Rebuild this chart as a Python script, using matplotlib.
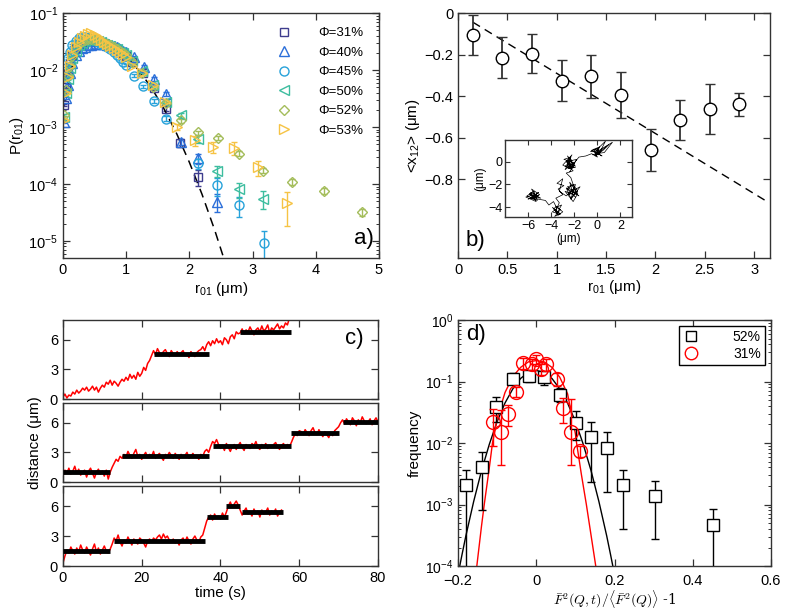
import numpy as np
import matplotlib
matplotlib.use("Agg")
import matplotlib.pyplot as plt
from matplotlib.lines import Line2D

plt.rcParams['font.family'] = ['Liberation Sans', 'DejaVu Sans']
plt.rcParams['mathtext.fontset'] = 'custom'
plt.rcParams['mathtext.rm'] = 'Liberation Sans'
plt.rcParams['mathtext.it'] = 'Liberation Sans:italic'
plt.rcParams['mathtext.bf'] = 'Liberation Sans:bold'
plt.rcParams['font.size'] = 10.5
plt.rcParams['axes.linewidth'] = 1.0
plt.rcParams['axes.edgecolor'] = '#333333'

# ---------------- panel a: P(r01) ----------------
R_DENSE = [0.02, 0.05, 0.08, 0.11, 0.15, 0.2, 0.25, 0.3, 0.35, 0.4, 0.45,
           0.5, 0.55, 0.6, 0.65, 0.7, 0.75, 0.8, 0.85, 0.9, 0.95, 1.0]

r31 = R_DENSE + [1.1, 1.26, 1.44, 1.63, 1.85, 2.13]
p31 = [2.4e-3, 5e-3, 8.5e-3, 1.25e-2, 1.8e-2, 2.4e-2, 2.8e-2, 3.1e-2, 3.3e-2, 3.4e-2, 3.4e-2,
       3.35e-2, 3.25e-2, 3.1e-2, 2.95e-2, 2.8e-2, 2.65e-2, 2.5e-2, 2.3e-2, 2.1e-2, 1.9e-2, 1.75e-2,
       1.4e-2, 9e-3, 4.8e-3, 2.1e-3, 5.3e-4, 1.35e-4]
e31 = [0.04] * 22 + [0.05, 0.06, 0.08, 0.1, 0.15, 0.32]

r40 = R_DENSE + [1.12, 1.28, 1.44, 1.63, 1.86, 2.13, 2.44]
p40 = [1.2e-3, 3.2e-3, 5.5e-3, 9e-3, 1.35e-2, 1.8e-2, 2.15e-2, 2.4e-2, 2.55e-2, 2.7e-2, 2.8e-2,
       2.85e-2, 2.9e-2, 2.9e-2, 2.85e-2, 2.8e-2, 2.7e-2, 2.6e-2, 2.5e-2, 2.35e-2, 2.2e-2, 2.05e-2,
       1.7e-2, 1.15e-2, 7e-3, 3.8e-3, 5.5e-4, 2.8e-4, 4.9e-5]
e40 = [0.04] * 22 + [0.05, 0.06, 0.07, 0.08, 0.12, 0.2, 0.35]

r45 = R_DENSE + [1.12, 1.26, 1.44, 1.63, 2.13, 2.44, 2.78, 3.18]
p45 = [7.5e-3, 1.1e-2, 1.6e-2, 2.1e-2, 2.7e-2, 3.2e-2, 3.6e-2, 3.8e-2, 3.8e-2, 3.7e-2, 3.5e-2,
       3.3e-2, 3.1e-2, 2.9e-2, 2.7e-2, 2.5e-2, 2.3e-2, 2.1e-2, 1.8e-2, 1.6e-2, 1.4e-2, 1.23e-2,
       8e-3, 5.2e-3, 2.9e-3, 1.4e-3, 2.3e-4, 9.5e-5, 4.2e-5, 9e-6]
e45 = [0.04] * 22 + [0.06, 0.07, 0.08, 0.1, 0.2, 0.35, 0.38, 0.65]

r50 = R_DENSE + [1.1, 1.25, 1.42, 1.63, 1.86, 2.13, 2.44, 2.78, 3.16]
p50 = [1.5e-3, 4e-3, 7e-3, 1.1e-2, 1.6e-2, 2.2e-2, 2.7e-2, 3.0e-2, 3.2e-2, 3.3e-2, 3.35e-2,
       3.3e-2, 3.2e-2, 3.05e-2, 2.9e-2, 2.75e-2, 2.6e-2, 2.45e-2, 2.3e-2, 2.1e-2, 1.95e-2, 1.8e-2,
       1.45e-2, 9.5e-3, 5.5e-3, 2.8e-3, 1.6e-3, 6.2e-4, 1.7e-4, 8e-5, 5.5e-5]
e50 = [0.04] * 22 + [0.05, 0.06, 0.07, 0.08, 0.1, 0.15, 0.22, 0.3, 0.35]

r52 = R_DENSE + [1.1, 1.25, 1.42, 1.63, 1.86, 2.14, 2.45, 2.78, 3.17, 3.63, 4.13, 4.73]
p52 = [1.6e-3, 4.5e-3, 8e-3, 1.2e-2, 1.75e-2, 2.4e-2, 2.9e-2, 3.2e-2, 3.4e-2, 3.5e-2, 3.5e-2,
       3.4e-2, 3.3e-2, 3.15e-2, 3.0e-2, 2.85e-2, 2.7e-2, 2.5e-2, 2.35e-2, 2.2e-2, 2.0e-2, 1.85e-2,
       1.4e-2, 9e-3, 5e-3, 2.6e-3, 1.3e-3, 8e-4, 6.4e-4, 3.4e-4, 1.7e-4, 1.1e-4, 7.6e-5, 3.2e-5]
e52 = [0.04] * 22 + [0.05, 0.05, 0.06, 0.07, 0.08, 0.08, 0.08, 0.1, 0.1, 0.12, 0.12, 0.15]

r53 = R_DENSE + [1.09, 1.25, 1.42, 1.61, 1.81, 2.09, 2.38, 2.71, 3.09, 3.54]
p53 = [1.3e-3, 4e-3, 7.5e-3, 1.2e-2, 1.8e-2, 2.5e-2, 3.1e-2, 3.6e-2, 4.0e-2, 4.3e-2, 4.5e-2,
       4.2e-2, 3.8e-2, 3.4e-2, 3.1e-2, 2.85e-2, 2.65e-2, 2.45e-2, 2.25e-2, 2.05e-2, 1.9e-2, 1.7e-2,
       1.2e-2, 8.7e-3, 5.5e-3, 2.8e-3, 1.0e-3, 5.9e-4, 4.5e-4, 4.3e-4, 1.95e-4, 4.6e-5]
e53 = [0.04] * 22 + [0.05, 0.06, 0.07, 0.08, 0.12, 0.2, 0.22, 0.25, 0.3, 0.6]

a_labels = ["Φ=31%", "Φ=40%", "Φ=45%", "Φ=50%", "Φ=52%", "Φ=53%"]

# dashed guide in panel a
fit_a_r = [0.1, 0.2, 0.3, 0.4, 0.5, 0.6, 0.8, 1.0, 1.2, 1.4, 1.6, 1.8, 2.0, 2.2, 2.4, 2.6]
fit_a_p = [8.8e-3, 1.67e-2, 2.31e-2, 2.74e-2, 2.95e-2, 2.96e-2, 2.48e-2, 1.71e-2, 9.9e-3,
           4.9e-3, 2.07e-3, 7.6e-4, 2.4e-4, 6.6e-5, 1.56e-5, 3.2e-6]

# ---------------- panel b: <x12> vs r01 ----------------
b_r = [0.15, 0.45, 0.75, 1.05, 1.35, 1.65, 1.95, 2.25, 2.55, 2.85]
b_x12 = [-0.105, -0.215, -0.195, -0.325, -0.305, -0.395, -0.66, -0.515, -0.462, -0.44]
b_err = [0.095, 0.1, 0.095, 0.1, 0.105, 0.11, 0.1, 0.098, 0.12, 0.054]
b_line_r = [0.15, 3.12]
b_line_x = [-0.044, -0.905]

# inset trajectory (um)
walk_x = [-5.3, -5.9, -5.4, -6.1, -5.5, -5.2, -5.8, -5.0, -5.7, -5.4, -6.0, -5.1, -5.6, -4.9,
          -5.5, -6.2, -5.3, -5.8, -5.1, -5.6,
          -4.5, -4.2, -3.8, -3.5, -3.9, -3.3, -3.7, -3.2, -3.6, -3.0, -3.4, -3.8, -3.1,
          -3.5, -3.9, -3.2, -3.6, -3.3,
          -3.6, -3.0, -3.4, -2.9, -3.5, -3.0, -3.3, -2.7,
          -2.0, -2.5, -1.8, -2.3, -1.9, -2.6, -1.6, -2.2, -2.4, -1.7, -2.1, -2.8, -2.0, -1.5,
          -2.4, -1.9, -2.6, -2.1, -1.7, -2.3, -2.7, -1.8,
          -2.3, -2.7, -2.1, -2.6, -2.0, -2.9, -2.3, -2.5, -1.9, -2.8, -2.2, -2.6, -2.0, -2.4,
          -1.8, -2.7, -2.3, -2.5, -2.1, -2.8, -2.4, -1.9, -2.6, -2.2, -3.0, -2.4,
          -1.6, -1.0, -0.5, 0.0, -0.3, 0.2, -0.6, 0.1, -0.2, 0.5, 1.0, 0.0, -0.4, 0.3, -0.1,
          0.7, 0.1, -0.3, 0.4, -0.5, 0.2, -0.1, 0.6, 1.3, 0.0]
walk_y = [-3.1, -2.8, -3.3, -3.0, -2.6, -3.4, -3.2, -2.9, -2.4, -3.0, -3.3, -2.7, -3.1, -3.2,
          -2.9, -3.1, -3.5, -2.7, -3.0, -3.2,
          -3.4, -3.8, -3.5, -4.1, -4.4, -4.6, -4.8, -4.2, -3.9, -4.4, -4.7, -4.1, -3.8,
          -4.5, -4.0, -4.6, -4.3, -3.6,
          -3.2, -2.9, -2.4, -2.1, -1.9, -1.5, -2.6, -3.0,
          -2.3, -2.9, -2.6, -3.3, -2.0, -2.2, -3.0, -2.5, -1.8, -2.8, -3.5, -2.6, -2.9, -2.2,
          -2.7, -3.1, -2.4, -2.0, -2.6, -3.2, -2.3, -2.9,
          -1.4, -1.0, -0.8, -0.3, -0.1, 0.2, 0.4, -0.6, -0.5, -0.4, 0.1, 0.5, -0.3, -0.9,
          0.2, 0.0, -0.5, 0.3, -0.2, -0.7, 0.1, -0.4, -0.1, 0.6, -0.3, -0.6,
          0.4, 0.5, 0.7, 0.4, 1.1, 0.8, 0.9, 1.2, 0.5, 1.0, 1.5, 0.7, 0.6, 0.9, 1.0,
          1.8, 0.6, 0.9, 0.5, 1.0, 1.3, 0.7, 0.8, 1.7, 0.9]

# ---------------- panel c: distance traces ----------------
DT = 0.5
trace_top = [0.2, 0.5, 0.1, 0.4, 0.3, 0.7, 0.5, 0.9, 0.6, 0.8, 1.1, 0.9, 1.2, 0.8, 1.0, 1.3, 0.9, 1.2, 0.7, 1.1, 1.4,
             1.2, 1.7, 1.5, 1.9, 1.4, 1.8, 1.6, 1.3, 1.7, 2.0, 1.8, 2.2, 1.9, 2.5, 2.1, 2.4, 2.0, 2.7, 2.3,
             2.6, 3.2, 2.9, 3.6, 3.9, 4.4,
             4.9, 4.5, 5.1, 4.7, 4.4, 4.8, 5.0, 4.6, 4.3, 4.9, 4.6, 4.4, 4.8, 4.5, 4.7, 4.9, 4.4, 4.6, 4.2, 4.8,
             4.5, 4.3, 4.7, 4.9, 5.0, 5.3, 4.9, 5.5,
             5.8, 5.4, 5.9, 5.6, 6.1, 5.7, 5.9, 5.5, 6.2, 6.0, 5.6, 6.3, 6.5, 6.1, 6.8, 6.6,
             6.7, 7.1, 6.6, 7.0, 6.8, 7.3, 6.9, 6.5, 7.0, 7.2, 6.8, 7.4, 6.9, 7.1, 7.5, 6.7, 7.2, 7.0, 7.3, 7.6,
             7.1, 7.4, 7.2, 7.7, 7.5, 8.2]
trace_mid = [0.6, 1.2, 0.9, 1.4, 0.8, 1.1, 1.6, 0.9, 1.3, 0.7, 1.0, 1.2, 0.5, 1.1, 1.4, 0.9, 0.4, 1.0, 1.3, 0.8,
             1.1, 0.6, 1.2, 0.3, 1.0,
             1.5, 1.9, 2.3, 2.1, 2.6, 2.4,
             2.8, 2.5, 3.1, 2.7, 2.4, 2.9, 3.3, 2.6, 2.8, 2.3, 2.7, 3.0, 2.5, 2.8, 2.6, 3.1, 2.4, 2.7, 2.9, 2.5,
             2.2, 2.8, 2.6, 3.0, 2.7, 2.4, 2.9, 2.6, 2.3, 2.8, 2.5, 2.7, 3.0, 2.4, 2.6, 2.9, 2.5, 2.7, 2.3, 2.8,
             2.6, 3.1, 3.3, 3.0,
             3.6, 4.1, 3.9, 4.3,
             3.8, 3.4, 3.7, 3.2, 3.9, 3.5, 3.1, 3.6, 3.8, 3.3, 3.7, 4.0, 3.5, 3.2, 3.8, 3.6, 3.4, 3.9, 3.7, 4.1,
             3.5, 3.3, 3.8, 3.6, 3.9, 3.4, 3.7, 3.5, 3.8, 4.0, 3.6, 3.3, 3.7, 3.9, 3.5, 3.8, 3.6, 4.0,
             4.5, 4.9, 4.7, 5.2,
             5.1, 4.8, 5.3, 5.0, 4.7, 5.2, 5.5, 5.0, 4.8, 5.3, 4.9, 4.6, 5.1, 4.8, 4.5, 5.0, 4.7, 5.2, 5.4, 5.6,
             6.0, 6.3, 5.9, 6.4, 6.1, 5.8, 6.5, 6.2, 5.7, 6.3, 6.0, 6.6, 6.2, 5.9, 6.1, 6.4, 5.8, 6.2, 6.5, 6.1]
trace_bot = [0.3, 1.0, 1.6, 1.3, 1.9, 1.5, 1.2, 1.8, 1.4, 2.1, 1.6, 1.3, 1.9, 1.5, 1.1, 1.7, 2.2, 1.4, 1.8, 1.2,
             1.6, 2.0, 1.5, 1.3, 1.7,
             2.2, 2.8, 2.5, 3.1, 2.4, 2.0, 2.6, 2.3, 2.9, 2.5, 2.1, 2.7, 2.4, 2.2, 2.8, 2.6, 2.3, 1.9, 2.5, 2.7,
             2.4, 2.8, 2.6, 2.9, 3.1, 2.7, 3.2, 2.8, 3.0, 2.6, 2.4, 2.7, 2.3, 2.5, 2.1, 2.6, 2.8, 2.4, 2.9, 2.5,
             2.2, 2.7, 3.0, 2.6, 2.4, 2.9, 3.1,
             3.8, 4.5, 4.9,
             5.1, 4.6, 5.2, 4.8, 5.0, 4.7, 5.3, 4.9, 5.4,
             6.0, 6.4, 5.9, 6.2, 6.5, 6.1,
             5.6, 5.1, 5.5, 5.8, 5.2, 5.4, 5.0, 5.7, 5.3, 5.5, 4.9, 5.6, 5.2, 5.4, 5.8, 5.1, 5.5, 5.3, 5.7, 5.0,
             5.4, 5.6]
# plateaus: (start, end, level)
steps_top = [(23, 37, 4.6), (45, 58, 6.8)]
steps_mid = [(0, 12, 1.0), (15, 37, 2.6), (38, 58, 3.6), (58, 70, 5.0), (71, 80, 6.1)]
steps_bot = [(0, 12, 1.5), (13, 36, 2.5), (36.5, 42, 4.9), (41.5, 45, 6.0), (45.5, 56, 5.4)]

# ---------------- panel d: frequency ----------------
d_sq_x = [-0.18, -0.14, -0.102, -0.059, -0.018, 0.02, 0.06, 0.101, 0.141, 0.181, 0.222, 0.303, 0.451]
d_sq_y = [2.1e-3, 4.1e-3, 3.9e-2, 1.1e-1, 1.25e-1, 1.19e-1, 6.1e-2, 2.1e-2, 1.25e-2, 8.3e-3, 2.1e-3, 1.35e-3, 4.6e-4]
d_sq_lo = [1e-5, 8e-4, 2.2e-2, 9.2e-2, 9.8e-2, 8.9e-2, 4.6e-2, 1.1e-2, 2.3e-3, 1.6e-3, 4e-4, 2.8e-4, 1e-5]
d_sq_hi = [3.6e-3, 7.2e-3, 5.7e-2, 1.4e-1, 1.5e-1, 1.45e-1, 7.8e-2, 3.3e-2, 2.2e-2, 1.5e-2, 3.6e-3, 2.4e-3, 8.3e-4]

d_ci_x = [-0.11, -0.089, -0.072, -0.051, -0.034, -0.012, 0.0, 0.013, 0.026, 0.052, 0.069, 0.09, 0.111]
d_ci_y = [2.2e-2, 1.5e-2, 2.95e-2, 6.7e-2, 2.0e-1, 1.9e-1, 2.3e-1, 1.6e-1, 1.9e-1, 1.1e-1, 3.7e-2, 1.5e-2, 7.3e-3]
d_ci_lo = [9e-3, 4.4e-3, 1.9e-2, 5.5e-2, 1.6e-1, 1.55e-1, 1.9e-1, 1.3e-1, 1.5e-1, 8.5e-2, 2.1e-2, 4.4e-3, 6e-3]
d_ci_hi = [3.6e-2, 3.5e-2, 4.2e-2, 8e-2, 2.4e-1, 2.3e-1, 2.7e-1, 1.9e-1, 2.3e-1, 1.35e-1, 5.3e-2, 5.2e-2, 9e-3]

fit52_x = [-0.2, -0.19, -0.18, -0.16, -0.14, -0.12, -0.1, -0.08, -0.06, -0.04, -0.02, 0.0,
           0.02, 0.04, 0.06, 0.08, 0.1, 0.12, 0.14, 0.16, 0.18, 0.19, 0.2]
fit52_lg = [-4.14, -3.82, -3.51, -2.95, -2.45, -2.02, -1.65, -1.35, -1.12, -0.95, -0.85, -0.82,
            -0.85, -0.95, -1.12, -1.35, -1.65, -2.02, -2.45, -2.95, -3.51, -3.82, -4.14]
fit31_x = [-0.152, -0.14, -0.133, -0.12, -0.112, -0.1, -0.08, -0.06, -0.04, -0.02, 0.0,
           0.02, 0.04, 0.06, 0.08, 0.1, 0.103, 0.115, 0.128, 0.14, 0.152]
fit31_lg = [-4.0, -3.35, -3.0, -2.4, -2.0, -1.6, -1.18, -0.92, -0.77, -0.68, -0.66,
            -0.68, -0.77, -0.93, -1.2, -1.85, -2.0, -2.5, -3.0, -3.5, -4.0]

a_colors = ['#3e3d8e', '#2b6fd9', '#27a2da', '#3dbd9f', '#a4bd5b', '#f6c344']
a_markers = ['s', '^', 'o', '<', 'D', '>']
a_msize = [5.5, 6.5, 6.5, 6.5, 5.0, 6.5]


def style_ax(ax):
    ax.tick_params(which='both', direction='in', top=True, right=True,
                   colors='#333333', labelcolor='black')
    ax.tick_params(which='major', length=5, width=0.9, labelsize=10.5)
    ax.tick_params(which='minor', length=2.5, width=0.7)


fig = plt.figure(figsize=(7.87, 6.10), dpi=100)

# panel a
ax_a = fig.add_axes([0.080, 0.577, 0.4015, 0.4016])
series = [(r31, p31, e31), (r40, p40, e40), (r45, p45, e45),
          (r50, p50, e50), (r52, p52, e52), (r53, p53, e53)]
for (r, p, e), col, mk, ms in zip(series, a_colors, a_markers, a_msize):
    p = np.array(p)
    ax_a.errorbar(r, p, yerr=p * np.array(e), fmt=mk, ms=ms, mfc='none', mec=col,
                  mew=1.0, ecolor=col, elinewidth=1.0, capsize=2.5)
ax_a.plot(fit_a_r, fit_a_p, color='black', lw=1.1, dashes=(6, 4))
ax_a.set_yscale('log')
ax_a.set_xlim(0, 5)
ax_a.set_ylim(5e-6, 1e-1)
ax_a.set_xticks([0, 1, 2, 3, 4, 5])
style_ax(ax_a)
ax_a.set_xlabel(r'r$_{01}$ (μm)', fontsize=11, labelpad=2)
ax_a.set_ylabel(r'P(r$_{01}$)', fontsize=11, labelpad=2)
handles = [Line2D([], [], ls='none', marker=mk, ms=ms, mfc='none', mec=col, mew=1.0)
           for col, mk, ms in zip(a_colors, a_markers, a_msize)]
ax_a.legend(handles, a_labels, loc='upper right', bbox_to_anchor=(0.975, 0.975), frameon=False,
            fontsize=9.5, handletextpad=1.6, labelspacing=0.55, borderaxespad=0.2)
ax_a.text(0.985, 0.035, 'a)', transform=ax_a.transAxes, ha='right', va='bottom', fontsize=16)

# panel b
ax_b = fig.add_axes([0.582, 0.577, 0.3964, 0.4016])
ax_b.errorbar(b_r, b_x12, yerr=b_err, fmt='o', ms=9, mfc='white', mec='black', mew=1.0,
              ecolor='#333333', elinewidth=1.3, capsize=3.5, zorder=3)
ax_b.plot(b_line_r, b_line_x, color='black', lw=1.0, dashes=(6, 4), zorder=2)
ax_b.set_xlim(0, 3.16)
ax_b.set_ylim(-1.18, 0)
ax_b.set_xticks([0, 0.5, 1, 1.5, 2, 2.5, 3])
ax_b.set_xticklabels(['0', '0.5', '1', '1.5', '2', '2.5', '3'])
ax_b.set_yticks([0, -0.2, -0.4, -0.6, -0.8])
ax_b.set_yticklabels(['0', '−0.2', '−0.4', '−0.6', '−0.8'])
style_ax(ax_b)
ax_b.set_xlabel(r'r$_{01}$ (μm)', fontsize=11, labelpad=1)
ax_b.set_ylabel(r'<x$_{12}$> (μm)', fontsize=11, labelpad=2)
ax_b.text(0.025, 0.03, 'b)', transform=ax_b.transAxes, ha='left', va='bottom', fontsize=16)

ax_in = fig.add_axes([0.6417, 0.6443, 0.1614, 0.1262])
ax_in.plot(walk_x, walk_y, color='black', lw=0.5)
ax_in.set_xlim(-8, 3)
ax_in.set_ylim(-4.85, 1.9)
ax_in.set_xticks([-6, -4, -2, 0, 2])
ax_in.set_xticklabels(['−6', '−4', '−2', '0', '2'])
ax_in.set_yticks([-4, -2, 0])
ax_in.set_yticklabels(['−4', '−2', '0'])
ax_in.tick_params(direction='in', top=True, right=True, length=3.5, width=0.8,
                  labelsize=9, pad=2, colors='#333333', labelcolor='black')
ax_in.set_xlabel('(μm)', fontsize=8.5, labelpad=1)
ax_in.set_ylabel('(μm)', fontsize=8.5, labelpad=1)

# panel c
c_rects = [[0.080, 0.3459, 0.4003, 0.1295],
           [0.080, 0.2098, 0.4003, 0.1295],
           [0.080, 0.0721, 0.4003, 0.1311]]
c_data = [(trace_top, steps_top), (trace_mid, steps_mid), (trace_bot, steps_bot)]
c_axes = []
for rect, (tr, steps) in zip(c_rects, c_data):
    ax = fig.add_axes(rect)
    t = np.arange(len(tr)) * DT
    ax.plot(t, tr, color='#ff0000', lw=1.1)
    for t0, t1, lev in steps:
        ax.hlines(lev, t0, t1, color='black', lw=3.5, zorder=3)
    ax.set_xlim(0, 80)
    ax.set_ylim(0, 8)
    ax.set_yticks([0, 3, 6])
    ax.set_xticks([0, 20, 40, 60, 80])
    style_ax(ax)
    c_axes.append(ax)
for ax in c_axes[:2]:
    ax.set_xticklabels([])
c_axes[2].set_xlabel('time (s)', fontsize=11, labelpad=1)
c_axes[1].set_ylabel('distance (μm)', fontsize=11, labelpad=6)
c_axes[0].text(0.955, 0.76, 'c)', transform=c_axes[0].transAxes, ha='right', va='center', fontsize=16)

# panel d
ax_d = fig.add_axes([0.582, 0.0721, 0.3977, 0.4033])
ax_d.plot(fit52_x, 10 ** np.array(fit52_lg), color='black', lw=1.0)
ax_d.plot(fit31_x, 10 ** np.array(fit31_lg), color='#ff0000', lw=1.0)
sq_y = np.array(d_sq_y)
ax_d.errorbar(d_sq_x, sq_y, yerr=[sq_y - np.array(d_sq_lo), np.array(d_sq_hi) - sq_y],
              fmt='s', ms=8, mfc='white', mec='black', mew=1.0, ecolor='black',
              elinewidth=1.0, capsize=3, zorder=3)
ci_y = np.array(d_ci_y)
ax_d.errorbar(d_ci_x, ci_y, yerr=[ci_y - np.array(d_ci_lo), np.array(d_ci_hi) - ci_y],
              fmt='o', ms=10, mfc='none', mec='#ff0000', mew=1.0, ecolor='#ff0000',
              elinewidth=1.0, capsize=3, zorder=4)
ax_d.set_yscale('log')
ax_d.set_xlim(-0.2, 0.6)
ax_d.set_ylim(1e-4, 1)
ax_d.set_xticks([-0.2, 0, 0.2, 0.4, 0.6])
ax_d.set_xticklabels(['−0.2', '0', '0.2', '0.4', '0.6'])
style_ax(ax_d)
ax_d.tick_params(axis='x', which='major', pad=6)
ax_d.tick_params(axis='y', which='major', labelsize=10)
ax_d.set_ylabel('frequency', fontsize=11, labelpad=2)
ax_d.set_xlabel(r'$\bar{F}^2(Q,t)/\langle\bar{F}^2(Q)\rangle$ -1', fontsize=10,
                math_fontfamily='cm', family='DejaVu Serif', labelpad=0)
d_handles = [Line2D([], [], ls='none', marker='s', ms=7, mfc='white', mec='black', mew=1.0),
             Line2D([], [], ls='none', marker='o', ms=9, mfc='none', mec='#ff0000', mew=1.0)]
leg = ax_d.legend(d_handles, ['52%', '31%'], loc='upper right', bbox_to_anchor=(0.981, 0.975),
                  fontsize=10, handletextpad=2.4, handlelength=1.2, labelspacing=0.2,
                  borderaxespad=0.0, fancybox=False, edgecolor='black', framealpha=1, borderpad=0.3)
leg.get_frame().set_linewidth(1.0)
ax_d.text(0.025, 0.985, 'd)', transform=ax_d.transAxes, ha='left', va='top', fontsize=16)

fig.savefig('out.png', dpi=100)
